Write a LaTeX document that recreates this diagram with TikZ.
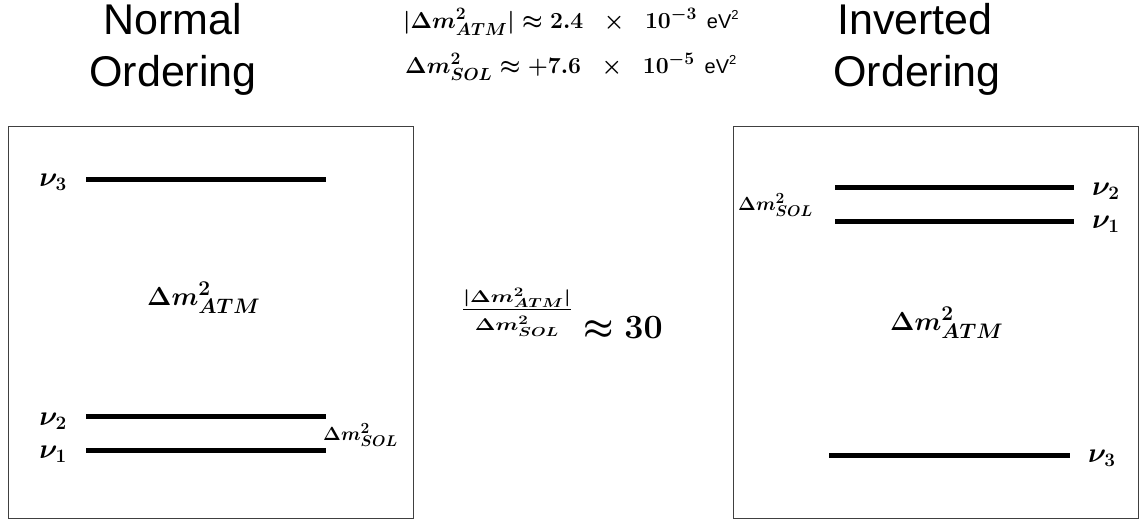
\RequirePackage{fix-cm}
\documentclass[tikz,border=0pt]{standalone}
\usepackage{fontspec}
\setsansfont{Liberation Sans}
\usepackage{amsmath}
\usepackage{graphicx}
\DeclareMathSizes{28}{28}{19}{14}
\DeclareMathSizes{26}{26}{21}{16}
\DeclareMathSizes{19}{19}{15.5}{12}
\DeclareMathSizes{23}{23}{17.5}{13.5}
\DeclareMathSizes{34}{34}{17}{13}
\tikzset{
  level/.style={line width=5pt},
  frame/.style={draw=black!75, line width=0.9pt},
  title/.style={font=\fontsize{43}{43}\selectfont\sffamily, anchor=base, inner sep=0pt},
  nulab/.style={font=\fontsize{28}{28}\selectfont\boldmath, inner sep=0pt},
  atmlab/.style={font=\fontsize{26}{26}\selectfont\boldmath, inner sep=0pt},
  sollab/.style={font=\fontsize{19}{19}\selectfont\boldmath, inner sep=0pt},
  toplab/.style={font=\fontsize{23}{23}\selectfont\boldmath, inner sep=0pt, anchor=base west},
  bigmath/.style={font=\fontsize{34}{34}\selectfont\boldmath, inner sep=0pt},
}
\newcommand{\evsq}{{\sffamily\fontsize{20}{20}\selectfont eV\raisebox{0.42em}{\fontsize{13}{13}\selectfont 2}}}
\begin{document}
\begin{tikzpicture}[x=1pt,y=-1pt]
\useasboundingbox (0,0) rectangle (1144,523);
% titles
\node[title] (tn1) at (173,34) {Normal};
\node[title] (tn2) at (173,86) {Ordering};
\node[title] (ti1) at (915,34) {Inverted};
\node[title] (ti2) at (917,86) {Ordering};
% top formulas
\node[toplab] (f1) at (403,28) {$|\Delta m^2_{ATM}| \approx 2.4 \;\;\unboldmath\times\;\; 10^{-3}$\hspace{10pt}\evsq};
\node[toplab] (f2) at (405,73) {$\Delta m^2_{SOL} \approx +7.6 \;\;\unboldmath\times\;\; 10^{-5}$\hspace{10pt}\evsq};
% boxes
\draw[frame] (8,126) rectangle (413,518);
\draw[frame] (733,126) rectangle (1138,518);
% normal ordering levels
\coordinate (n3a) at (86,179); \coordinate (n3b) at (326,179);
\coordinate (n2a) at (86,416); \coordinate (n2b) at (326,416);
\coordinate (n1a) at (86,450); \coordinate (n1b) at (326,450);
\draw[level] (n3a) -- (n3b);
\draw[level] (n2a) -- (n2b);
\draw[level] (n1a) -- (n1b);
\node[nulab, anchor=base east] (ln3) at (67,186) {$\nu_3$};
\node[nulab, anchor=base east] (ln2) at (67,425) {$\nu_2$};
\node[nulab, anchor=base east] (ln1) at (67,458) {$\nu_1$};
\node[atmlab, anchor=base west] (latm) at (147,305) {$\Delta m^2_{ATM}$};
\node[sollab, anchor=base west] (lsol) at (323,440) {$\Delta m^2_{SOL}$};
% ratio
\node[bigmath] (frac) at (517,312) {\scalebox{1.3}[1]{$\frac{|\Delta m^2_{ATM}|}{\Delta m^2_{SOL}}$}};
\node[bigmath, anchor=base west] (approx) at (583,338) {$\approx 30$};
% inverted ordering levels
\coordinate (i2a) at (835,187); \coordinate (i2b) at (1074,187);
\coordinate (i1a) at (835,221); \coordinate (i1b) at (1074,221);
\coordinate (i3a) at (829,455); \coordinate (i3b) at (1070,455);
\draw[level] (i2a) -- (i2b);
\draw[level] (i1a) -- (i1b);
\draw[level] (i3a) -- (i3b);
\node[nulab, anchor=base west] (rn2) at (1092,195) {$\nu_2$};
\node[nulab, anchor=base west] (rn1) at (1092,228) {$\nu_1$};
\node[nulab, anchor=base west] (rn3) at (1088,462) {$\nu_3$};
\node[sollab, anchor=base west] (rsol) at (738,210) {$\Delta m^2_{SOL}$};
\node[atmlab, anchor=base west] (ratm) at (890,330) {$\Delta m^2_{ATM}$};
\end{tikzpicture}
\end{document}
